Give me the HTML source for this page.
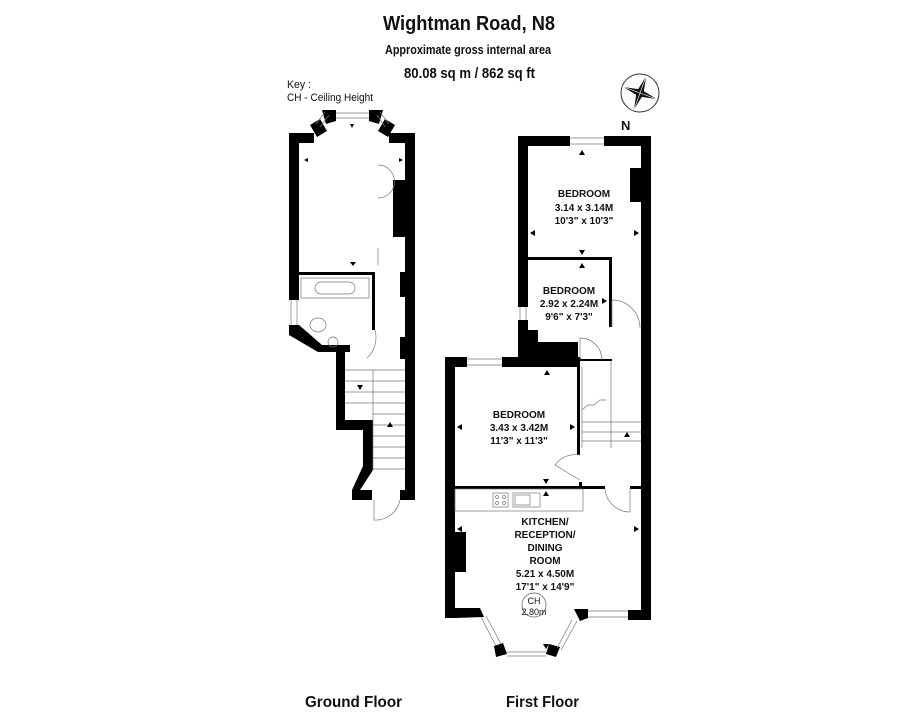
<!DOCTYPE html>
<html><head><meta charset="utf-8"><style>
html,body{margin:0;padding:0;background:#fff;}
svg{display:block;}
text{font-family:"Liberation Sans Narrow","Liberation Sans",sans-serif;fill:#111;}
</style></head><body>
<svg width="921" height="723" viewBox="0 0 921 723" xmlns="http://www.w3.org/2000/svg">
<rect width="921" height="723" fill="#fff"/>
<!-- headings -->
<text x="383" y="30" font-size="20" font-weight="bold" textLength="172" lengthAdjust="spacingAndGlyphs">Wightman Road, N8</text>
<text x="385" y="54" font-size="13" font-weight="bold" textLength="166" lengthAdjust="spacingAndGlyphs">Approximate gross internal area</text>
<text x="404" y="78" font-size="15" font-weight="bold" textLength="131" lengthAdjust="spacingAndGlyphs">80.08 sq m /  862 sq ft</text>
<text x="287" y="88" font-size="11" textLength="24" lengthAdjust="spacingAndGlyphs">Key :</text>
<text x="287" y="101" font-size="11" textLength="86" lengthAdjust="spacingAndGlyphs">CH - Ceiling Height</text>
<text x="305" y="707" font-size="16" font-weight="bold" textLength="97" lengthAdjust="spacingAndGlyphs">Ground Floor</text>
<text x="506" y="707" font-size="16" font-weight="bold" textLength="73" lengthAdjust="spacingAndGlyphs">First Floor</text>
<!-- compass -->
<circle cx="640" cy="93" r="19" fill="none" stroke="#333" stroke-width="1"/>
<g transform="translate(640,93) rotate(20)">
 <polygon points="0,-18 3,-3 18,0 3,3 0,18 -3,3 -18,0 -3,-3" fill="#111"/>
 <polygon points="0,-18 0,0 18,0 0,0 0,18 0,0 -18,0" fill="none" stroke="#fff" stroke-width="0.6"/>
</g>
<text x="621" y="130" font-size="13" font-weight="bold">N</text>

<!-- ============ GROUND FLOOR ============ -->
<g fill="#000">
 <rect x="289" y="133" width="10" height="167"/>
 <rect x="289" y="133" width="25" height="10"/>
 <polygon points="310,125 320,119 327,131 317,137"/>
 <polygon points="322,110 336,110 336,121 326,124"/>
 <polygon points="369,110 383,110 379,124 369,121"/>
 <polygon points="385,119 395,125 388,137 378,131"/>
 <rect x="389" y="133" width="26" height="10"/>
 <rect x="405" y="133" width="10" height="367"/>
 <rect x="393" y="180" width="12" height="57"/>
 <rect x="400" y="272" width="5" height="25"/>
 <rect x="400" y="337" width="5" height="22"/>
 <rect x="400" y="490" width="15" height="10"/>
 <polygon points="289,325 299,325 322,345 350,345 350,352 345,352 345,420 373,420 373,470 360,490 372,490 372,500 352,500 352,490 363,466 363,430 336,430 336,352 318,352 289,335"/>
 <rect x="299" y="272" width="76" height="3"/>
 <rect x="372" y="272" width="3" height="58"/>
</g>
<g fill="none" stroke="#777" stroke-width="0.7">
 <line x1="336" y1="113" x2="369" y2="113"/><line x1="336" y1="118" x2="369" y2="118"/>
 <line x1="316" y1="124" x2="325" y2="112"/><line x1="320" y1="127" x2="329" y2="115"/>
 <line x1="380" y1="112" x2="389" y2="124"/><line x1="377" y1="115" x2="385" y2="127"/>
 <line x1="291" y1="300" x2="291" y2="325"/><line x1="297" y1="300" x2="297" y2="325"/>
 <rect x="301" y="278" width="68" height="20"/>
 <rect x="315" y="282" width="40" height="12" rx="6"/>
 <ellipse cx="318" cy="325" rx="8" ry="7"/>
 <circle cx="333" cy="342" r="5"/>
 <path d="M378,165 A16,16 0 0 1 378,198" />
 <line x1="378" y1="248" x2="378" y2="265"/>
 <path d="M375,330 A28,28 0 0 1 367,358"/>
 <path d="M345,370 H405 M345,381 H405 M345,392 H405 M345,403 H405 M373,414 H405 M373,425 H405 M373,436 H405 M373,447 H405 M373,458 H405 M373,469 H405"/>
 <line x1="373" y1="370" x2="373" y2="470"/>
 <path d="M374,500 V520 A25,25 0 0 0 400,500"/>
</g>
<g fill="#000">
 <polygon points="352,128 350,124 354,124"/>
 <polygon points="304,160 308,158 308,162"/>
 <polygon points="403,160 399,158 399,162"/>
 <polygon points="353,266 350,262 356,262"/>
 <polygon points="360,390 357,385 363,385"/>
 <polygon points="390,422 387,427 393,427"/>
</g>

<!-- ============ FIRST FLOOR ============ -->
<g fill="#000">
 <rect x="518" y="136" width="52" height="10"/>
 <rect x="604" y="136" width="47" height="10"/>
 <rect x="518" y="136" width="10" height="171"/>
 <rect x="518" y="320" width="10" height="47"/>
 <rect x="641" y="136" width="10" height="484"/>
 <rect x="630" y="168" width="11" height="34"/>
 <polygon points="528,330 538,330 538,342 578,342 578,367 528,367"/>
 <rect x="528" y="257" width="84" height="3"/>
 <rect x="609" y="257" width="3" height="70"/>
 <rect x="578" y="358" width="3" height="3"/>
 <rect x="580" y="359" width="32" height="2"/>
 <rect x="445" y="357" width="22" height="10"/>
 <rect x="502" y="357" width="78" height="10"/>
 <rect x="445" y="357" width="10" height="261"/>
 <rect x="577" y="362" width="3" height="93"/>
 <rect x="455" y="486" width="150" height="3"/>
 <rect x="630" y="486" width="11" height="3"/>
 <rect x="579" y="482" width="3" height="5"/>
 <rect x="455" y="532" width="11" height="40"/>
 <polygon points="445,608 480,608 484,617 455,618 445,618"/>
 <polygon points="494,646 503,643 507,654 496,657"/>
 <polygon points="549,644 560,647 556,657 546,654"/>
 <polygon points="574,609 588,609 588,618 580,621"/>
 <rect x="628" y="610" width="23" height="10"/>
</g>
<g fill="none" stroke="#777" stroke-width="0.7">
 <line x1="570" y1="138" x2="604" y2="138"/><line x1="570" y1="144" x2="604" y2="144"/>
 <line x1="520" y1="307" x2="520" y2="320"/><line x1="526" y1="307" x2="526" y2="320"/>
 <line x1="467" y1="359" x2="502" y2="359"/><line x1="467" y1="365" x2="502" y2="365"/>
 <line x1="588" y1="611" x2="628" y2="611"/><line x1="588" y1="617" x2="628" y2="617"/>
 <line x1="507" y1="652" x2="546" y2="652"/><line x1="507" y1="656" x2="546" y2="656"/>
 <line x1="481" y1="617" x2="496" y2="646"/><line x1="486" y1="616" x2="501" y2="644"/>
 <line x1="572" y1="620" x2="557" y2="648"/><line x1="577" y1="621" x2="561" y2="650"/>
 <path d="M612,327 V300 A28,28 0 0 1 640,328"/>
 <path d="M580,360 V338 A22,22 0 0 1 602,360"/>
 <path d="M580,455 A25,25 0 0 0 555,465 L580,480"/>
 <path d="M605,488 A25,25 0 0 0 630,512 V488"/>
 <path d="M582,367 V448 M611,361 V448 M582,422 H641 M582,432 H641 M582,441 H641"/>
 <path d="M582,410 l6,-5 6,0 6,-5 6,0"/>
 <rect x="455" y="489" width="128" height="22"/>
 <rect x="493" y="493" width="15" height="14"/>
 <circle cx="497" cy="497" r="1.5"/><circle cx="504" cy="497" r="1.5"/><circle cx="497" cy="503" r="1.5"/><circle cx="504" cy="503" r="1.5"/>
 <rect x="513" y="493" width="27" height="14"/>
 <rect x="515" y="495" width="15" height="10"/>
 <circle cx="534" cy="605" r="12" stroke="#555"/>
</g>
<g fill="#000">
 <polygon points="582,150 579,155 585,155"/>
 <polygon points="530,233 535,230 535,236"/>
 <polygon points="639,233 634,230 634,236"/>
 <polygon points="582,255 579,250 585,250"/>
 <polygon points="582,263 579,268 585,268"/>
 <polygon points="607,301 602,298 602,304"/>
 <polygon points="547,370 544,375 550,375"/>
 <polygon points="457,427 462,424 462,430"/>
 <polygon points="575,427 570,424 570,430"/>
 <polygon points="627,432 624,437 630,437"/>
 <polygon points="546,484 543,479 549,479"/>
 <polygon points="546,491 543,496 549,496"/>
 <polygon points="457,529 462,526 462,532"/>
 <polygon points="639,529 634,526 634,532"/>
 <polygon points="546,649 543,644 549,644"/>
</g>
<g font-size="10" font-weight="bold" text-anchor="middle">
 <text x="584" y="197">BEDROOM</text>
 <text x="584" y="211">3.14 x 3.14M</text>
 <text x="584" y="224">10'3" x 10'3"</text>
 <text x="569" y="294">BEDROOM</text>
 <text x="569" y="307">2.92 x 2.24M</text>
 <text x="569" y="320">9'6" x 7'3"</text>
 <text x="519" y="418">BEDROOM</text>
 <text x="519" y="431">3.43 x 3.42M</text>
 <text x="519" y="444">11'3" x 11'3"</text>
 <text x="545" y="525">KITCHEN/</text>
 <text x="545" y="538">RECEPTION/</text>
 <text x="545" y="551">DINING</text>
 <text x="545" y="564">ROOM</text>
 <text x="545" y="577">5.21 x 4.50M</text>
 <text x="545" y="590">17'1" x 14'9"</text>
</g>
<g font-size="9" text-anchor="middle">
 <text x="534" y="604">CH</text>
 <text x="534" y="615">2.80m</text>
</g>
</svg>
</body></html>
